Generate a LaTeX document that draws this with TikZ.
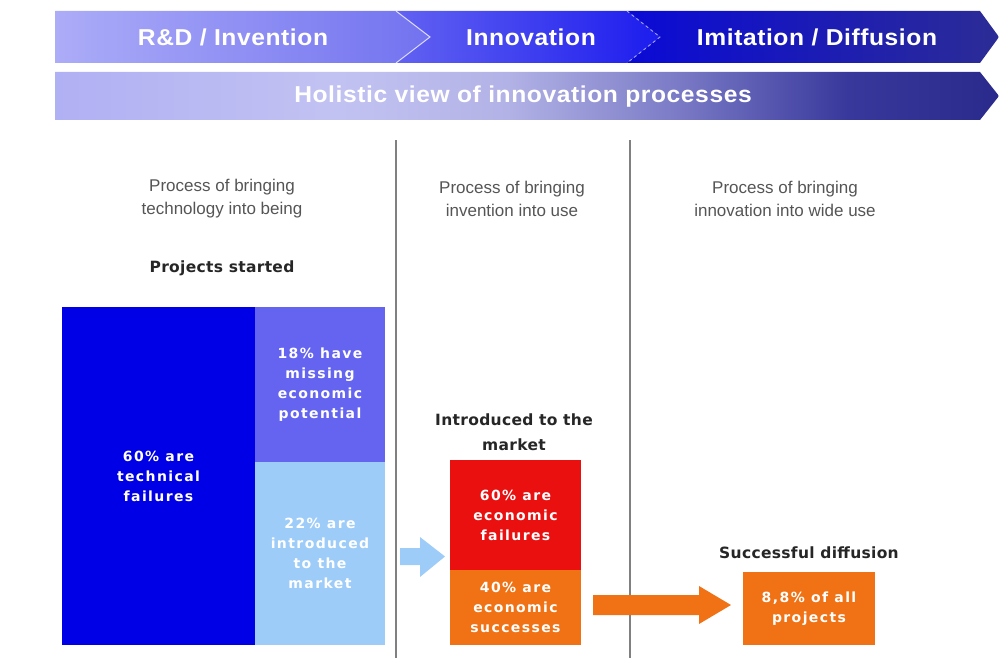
\documentclass[tikz,border=0pt]{standalone}
\usepackage{fontspec}
\setmainfont{Liberation Sans}
\newfontfamily\hdrfont[LetterSpace=2.5,FakeStretch=1.07]{Liberation Sans}
\newfontfamily\boxfont[LetterSpace=10]{DejaVu Sans}
\newfontfamily\lblfont[LetterSpace=2]{DejaVu Sans}
\definecolor{segAl}{HTML}{ACACF8}
\definecolor{segAr}{HTML}{7272F0}
\definecolor{segBl}{HTML}{6262F2}
\definecolor{segBr}{HTML}{1C1CEE}
\definecolor{segCl}{HTML}{0A0AD6}
\definecolor{segCr}{HTML}{2C2C96}
\definecolor{holA}{HTML}{B0B0F4}
\definecolor{holB}{HTML}{C2C2F2}
\definecolor{holC}{HTML}{B2B2E6}
\definecolor{holD}{HTML}{7A7AC6}
\definecolor{holE}{HTML}{38389C}
\definecolor{holF}{HTML}{2A2A8C}
\definecolor{dkblue}{HTML}{0000E6}
\definecolor{mdblue}{HTML}{6464F0}
\definecolor{ltblue}{HTML}{9DCCF8}
\definecolor{redbox}{HTML}{EA1010}
\definecolor{orbox}{HTML}{F07214}
\definecolor{procgray}{HTML}{555555}
\pgfdeclarehorizontalshading{holshade}{100bp}{color(0bp)=(holA); color(25bp)=(holA); color(40bp)=(holB); color(49bp)=(holC); color(58bp)=(holD); color(67bp)=(holE); color(75bp)=(holF); color(100bp)=(holF)}
\tikzset{
  hdr/.style={text=white, font=\hdrfont\fontsize{23}{26}\selectfont\bfseries},
  proc/.style={text=procgray, align=center, font=\fontsize{17}{23}\selectfont},
  lbl/.style={text=black!85, align=center, font=\lblfont\fontsize{15.5}{25}\selectfont\bfseries},
  boxn/.style={text=white, align=center, inner sep=0pt, font=\boxfont\fontsize{14}{20}\selectfont\bfseries},
  sepline/.style={draw=black!50, line width=1.3pt},
}
\begin{document}
\begin{tikzpicture}[x=1pt,y=-1pt]
\useasboundingbox (0,0) rectangle (999,658);
% top band, three segments
\shade[left color=segAl, right color=segAr]
  (55,11) -- (396,11) -- (430,37) -- (396,63) -- (55,63) -- cycle;
\shade[left color=segBl, right color=segBr]
  (396,11) -- (627,11) -- (660,37) -- (627,63) -- (396,63) -- (430,37) -- cycle;
\shade[left color=segCl, right color=segCr]
  (627,11) -- (980,11) -- (999,37) -- (980,63) -- (627,63) -- (660,37) -- cycle;
\draw[white, line width=1pt, opacity=0.75] (396,11) -- (430,37) -- (396,63);
\draw[white, line width=1pt, opacity=0.55, dashed] (627,11) -- (660,37) -- (627,63);
% second band
\shade[shading=holshade]
  (55,72) -- (980,72) -- (999,96) -- (980,120) -- (55,120) -- cycle;
\node[hdr] (hRD) at (233,37) {R\&D / Invention};
\node[hdr] (hInn) at (531,37) {Innovation};
\node[hdr] (hImi) at (817,37) {Imitation / Diffusion};
\node[hdr] (hHol) at (523,97) {Holistic view of innovation processes};
% separators
\coordinate (s1t) at (396,140); \coordinate (s1b) at (396,658);
\coordinate (s2t) at (630,140); \coordinate (s2b) at (630,658);
\draw[sepline] (s1t) -- (s1b);
\draw[sepline] (s2t) -- (s2b);
% process texts
\node[proc] (p1) at (222,199) {Process of bringing\\technology into being};
\node[proc] (p2) at (512,199) {Process of bringing\\invention into use};
\node[proc] (p3) at (785,199) {Process of bringing\\innovation into wide use};
\node[lbl] (started) at (222,268) {Projects started};
% left blocks
\node[boxn, fill=dkblue, minimum width=193pt, minimum height=338pt] (tech) at (158.5,476) {60\% are\\technical\\failures};
\node[boxn, fill=mdblue, minimum width=130pt, minimum height=155pt] (miss) at (320,384.5) {18\% have\\missing\\economic\\potential};
\node[boxn, fill=ltblue, minimum width=130pt, minimum height=183pt] (intro) at (320,553.5) {22\% are\\introduced\\to the\\market};
% light blue arrow
\fill[ltblue] (400,548) -- (420,548) -- (420,537) -- (445,556.5) -- (420,577) -- (420,565) -- (400,565) -- cycle;
% middle column
\node[lbl] (introlbl) at (514,432) {Introduced to the\\market};
\node[boxn, fill=redbox, minimum width=131pt, minimum height=110pt] (ecofail) at (515.5,515) {60\% are\\economic\\failures};
\node[boxn, fill=orbox, minimum width=131pt, minimum height=75pt] (ecosucc) at (515.5,607.5) {40\% are\\economic\\successes};
% orange arrow
\fill[orbox] (593,595) -- (699,595) -- (699,586) -- (731,605) -- (699,624) -- (699,615) -- (593,615) -- cycle;
% right column
\node[lbl] (succ) at (809,553) {Successful diffusion};
\node[boxn, fill=orbox, minimum width=132pt, minimum height=73pt] (all) at (809,608.5) {8,8\% of all\\projects};
\end{tikzpicture}
\end{document}
